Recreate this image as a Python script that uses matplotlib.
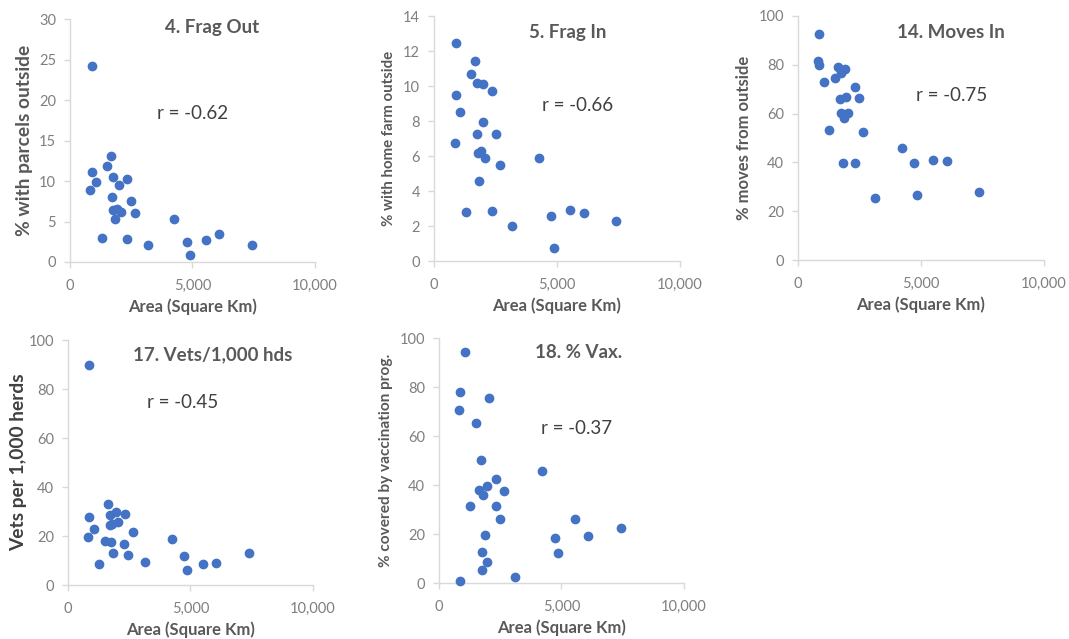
import matplotlib.pyplot as plt
from matplotlib.ticker import FuncFormatter

plt.rcParams['font.family'] = ['Lato', 'DejaVu Sans']

# area (square km) for each panel
area_frag_out = [884, 884, 816, 1061, 1293, 1497, 1673, 1769, 1728, 1769, 1837, 1905, 2000,
                 2068, 2313, 2313, 2490, 2667, 3170, 4259, 4776, 4884, 5551, 6095, 7442]
frag_out = [24.2, 11.07, 8.85, 9.88, 3.0, 11.9, 13.1, 10.45, 8.07, 6.38, 5.3, 6.5, 9.55,
            6.17, 10.25, 2.84, 7.57, 6.05, 2.14, 5.35, 2.47, 0.82, 2.67, 3.5, 2.14]

area_frag_in = [908, 908, 854, 1057, 1301, 1504, 1680, 1762, 1734, 1775, 1897, 1843, 2005,
                2005, 2073, 2344, 2507, 2344, 2683, 3171, 4268, 4756, 4892, 5542, 6098, 7412]
frag_in = [12.48, 9.52, 6.74, 8.55, 2.78, 10.7, 11.47, 10.17, 7.28, 6.17, 6.32, 4.57, 10.1,
           7.98, 5.89, 9.75, 7.28, 2.86, 5.5, 1.98, 5.9, 2.6, 0.76, 2.93, 2.76, 2.27]

area_moves_in = [866, 812, 866, 1042, 1245, 1488, 1624, 1746, 1921, 1691, 1962, 1759, 1854,
                 2030, 1813, 2300, 2463, 2300, 2639, 3112, 4222, 4736, 4831, 5508, 6049, 7375]
moves_in = [92.5, 81.4, 79.8, 73.0, 53.2, 74.6, 79.1, 76.7, 78.4, 65.8, 66.8, 60.3, 58.0,
            60.4, 39.6, 70.7, 66.4, 39.6, 52.3, 25.6, 46.1, 39.6, 26.6, 41.2, 40.7, 27.7]

area_vets = [868, 868, 814, 1045, 1248, 1493, 1628, 1723, 1696, 1764, 1859, 1818, 1967,
             2062, 2334, 2307, 2470, 2646, 3148, 4261, 4735, 4871, 5522, 6065, 7395]
vets = [89.8, 27.9, 19.5, 22.9, 8.4, 18.0, 33.3, 28.8, 24.5, 17.4, 12.9, 24.8, 29.9,
        25.6, 29.0, 16.7, 12.1, 21.8, 9.5, 18.9, 11.7, 6.1, 8.4, 9.1, 12.9]

area_vax = [1060, 856, 802, 856, 1264, 1495, 1698, 1644, 1807, 1766, 1766, 1875, 1970,
            1970, 2052, 2310, 2310, 2486, 2649, 3111, 4226, 4755, 4864, 5543, 6087, 7418]
vax = [94.3, 78.2, 70.9, 0.8, 31.4, 65.2, 50.2, 37.9, 35.9, 12.7, 5.2, 19.8, 39.7,
       8.6, 75.4, 42.4, 31.4, 26.3, 37.5, 2.5, 45.8, 18.6, 12.4, 26.3, 19.1, 22.6]

panels = [
    # rect, x, y, ymax, ystep, title, ylabel, r text, title pos, r pos, ylabel size, colour, pad
    ([0.0655, 0.590, 0.229, 0.380], area_frag_out, frag_out, 30, 5, '4. Frag Out',
     '% with parcels outside', 'r = -0.62', (0.58, 0.965), (0.50, 0.613), 13.8, '#595959', 4),
    ([0.406, 0.5915, 0.230, 0.383], area_frag_in, frag_in, 14, 2, '5. Frag In',
     '% with home farm outside', 'r = -0.66', (0.545, 0.935), (0.585, 0.637), 10.8, '#595959', 5),
    ([0.7465, 0.593, 0.230, 0.382], area_moves_in, moves_in, 100, 20, '14. Moves In',
     '% moves from outside', 'r = -0.75', (0.62, 0.934), (0.626, 0.676), 12, '#595959', 5),
    ([0.0636, 0.0845, 0.229, 0.383], area_vets, vets, 100, 20, '17. Vets/1,000 hds',
     'Vets per 1,000 herds', 'r = -0.45', (0.59, 0.94), (0.47, 0.747), 13.8, '#404040', 1),
    ([0.4107, 0.0876, 0.229, 0.383], area_vax, vax, 100, 20, '18. % Vax.',
     '% covered by vaccination prog.', 'r = -0.37', (0.57, 0.943), (0.563, 0.633), 11.1, '#595959', 5),
]

fig = plt.figure(figsize=(10.69, 6.39), dpi=100)

for rect, xs, ys, ymax, ystep, title, ylab, rtxt, tpos, rpos, ylsize, ylcol, ylpad in panels:
    ax = fig.add_axes(rect)
    ax.scatter(xs, ys, s=36, color='#4472C4', zorder=3, clip_on=False)
    ax.set_xlim(0, 10000)
    ax.set_ylim(0, ymax)
    ax.set_xticks([0, 5000, 10000])
    ax.set_yticks(range(0, ymax + 1, ystep))
    ax.xaxis.set_major_formatter(FuncFormatter(lambda v, p: '{:,.0f}'.format(v)))
    for s in ['top', 'right']:
        ax.spines[s].set_visible(False)
    for s in ['left', 'bottom']:
        ax.spines[s].set_color('#d9d9d9')
        ax.spines[s].set_linewidth(1)
    ax.tick_params(colors='#d9d9d9', labelcolor='#7f7f7f', labelsize=10.5, length=4, width=1)
    ax.tick_params(axis='x', pad=8)
    ax.tick_params(axis='y', pad=6)
    ax.set_xlabel('Area (Square Km)', fontsize=12, fontweight='bold', color='#595959', labelpad=4)
    ax.set_ylabel(ylab, fontsize=ylsize, fontweight='bold', color=ylcol, labelpad=ylpad)
    ax.text(tpos[0], tpos[1], title, transform=ax.transAxes, ha='center', va='center',
            fontsize=13.5, fontweight='bold', color='#595959')
    ax.text(rpos[0], rpos[1], rtxt, transform=ax.transAxes, ha='center', va='center',
            fontsize=13.5, color='#404040')

fig.savefig('out.png', dpi=100)
